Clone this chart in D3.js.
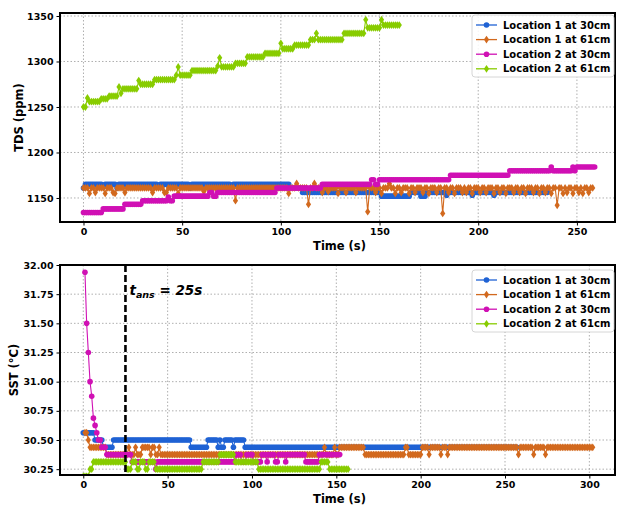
<!DOCTYPE html>
<html>
<head>
<meta charset="utf-8">
<script src="https://d3js.org/d3.v7.min.js"></script>
<style>
  body { margin: 0; background: #fff; }
  svg { font-family: "DejaVu Sans", sans-serif; font-weight: bold; }
</style>
</head>
<body>
<script>
// ---- data: run-length [value, samples] at 1 s per sample ----
const seriesNames = ["Location 1 at 30cm", "Location 1 at 61cm", "Location 2 at 30cm", "Location 2 at 61cm"];
const seriesColors = ["#1f62d4", "#d2691e", "#d010b4", "#88cc00"];
const seriesMarkers = ["circle", "diamond", "circle", "diamond"];

// TDS (ppm)
const tdsStart = [0, 0, 0, 0];
const tdsL1_30 = [[1161,1],[1165,9],[1162,1],[1165,6],[1161,1],[1165,20],[1162,1],[1165,15],[1161,1],[1165,20],[1162,1],[1165,29],
  [1161,6],[1156,40],[1152,15],[1156,5],[1152,3],[1156,10],[1153,1],[1156,12],[1153,1],[1156,10],[1153,1],[1156,27]];
const tdsL1_61 = [[1161,3],[1155,1],[1161,2],[1156,1],[1161,4],[1155,1],[1161,3],[1156,1],[1155,1],[1161,4],[1156,1],[1161,13],
  [1156,1],[1161,5],[1156,2],[1161,5],[1155,1],[1161,12],[1157,1],[1161,15],[1147,1],[1161,26],[1155,1],[1161,3],[1166,1],
  [1161,5],[1143,1],[1161,2],[1166,1],
  [1161,3],[1156,1],[1161,2],[1157,1],[1161,4],[1155,1],[1161,3],[1156,1],[1161,4],[1156,1],[1161,3],[1161,2],[1135,1],[1161,3],
  [1156,1],[1161,2],[1155,1],[1161,3],[1166,1],[1161,2],[1155,1],[1161,2],[1156,1],[1161,3],[1155,1],[1161,2],[1156,1],[1161,3],
  [1156,1],[1161,2],[1155,1],[1161,3],[1156,1],[1161,2],[1133,1],
  [1161,2],[1156,1],[1161,2],[1155,1],[1161,3],[1156,1],[1161,1],[1156,1],[1161,2],[1155,1],[1161,3],[1156,1],[1161,2],[1156,1],
  [1161,3],[1155,1],[1161,2],[1156,1],[1161,2],[1155,1],[1161,3],[1156,1],[1161,2],[1156,1],[1161,2],[1155,1],[1161,3],[1156,1],
  [1161,2],[1155,1],[1161,2],[1156,1],[1161,2],[1155,1],[1161,2],[1142,1],
  [1161,2],[1155,1],[1161,1],[1156,1],[1161,2],[1155,1],[1161,2],[1156,1],[1161,1],[1155,1],[1161,2],[1156,1],[1161,2]];
const tdsL2_30 = [[1134,10],[1138,11],[1143,9],[1147,13],[1151,1],[1147,2],[1152,18],[1156,2],[1152,2],[1156,30],[1161,23],
  [1165,25],[1170,2],[1165,2],[1170,36],[1175,30],[1180,21],[1184,1],[1180,10],[1184,1],[1180,1],[1184,10]];
const tdsL2_61 = [[1250,2],[1260,1],[1256,6],[1259,4],[1262,5],[1272,1],[1265,1],[1270,8],[1279,1],[1275,7],[1280,11],[1285,1],
  [1294,1],[1285,6],[1290,13],[1295,1],[1304,1],[1294,7],[1298,6],[1305,9],[1309,8],[1320,1],[1314,6],[1318,8],[1324,3],
  [1331,1],[1324,13],[1331,11],[1346,1],[1337,7],[1346,1],[1340,9]];

// SST (degC)
const sstStart = [0, 1, 1, 0];
const sstL1_30 = [[30.5625,7],[30.5,5],[30.4375,6],[30.5,46],[30.4375,10],[30.5,6],[30.4375,1],[30.5,1],[30.4375,2],[30.5,5],
  [30.4375,1],[30.5,6],[30.4375,162]];
const sstL1_61 = [[30.5625,2],[30.5,1],[30.4375,10],[30.375,13],[30.4375,1],[30.375,3],[30.4375,1],[30.375,3],[30.4375,5],
  [30.375,1],[30.4375,2],[30.375,2],[30.4375,1],[30.375,97],[30.4375,1],[30.375,5],[30.4375,1],[30.375,2],[30.4375,15],
  [30.375,24],[30.4375,2],[30.375,8],[30.4375,4],[30.375,1],[30.4375,6],[30.375,1],[30.4375,3],[30.375,1],[30.4375,41],
  [30.375,1],[30.4375,8],[30.375,1],[30.4375,6],[30.375,1],[30.4375,28]];
const sstL2_30 = [[31.9375,1],[31.5,1],[31.25,1],[31.0,1],[30.875,1],[30.6875,1],[30.625,1],[30.5625,1],[30.5,2],[30.4375,3],
  [30.375,15],[30.3125,3],[30.3125,11],[30.25,1],[30.3125,26],[30.3125,12],[30.3125,9],[30.375,3],[30.3125,3],[30.375,4],
  [30.3125,5],[30.375,3],[30.3125,1],[30.375,4],[30.3125,2],[30.375,4],[30.3125,1],[30.375,11],[30.3125,8],[30.375,13]];
const sstL2_61 = [[30.1875,4],[30.25,2],[30.3125,20],[30.25,3],[30.3125,3],[30.25,2],[30.3125,3],[30.25,2],[30.3125,4],
  [30.25,28],[30.3125,10],[30.375,9],[30.3125,14],[30.25,37],[30.3125,5],[30.25,12]];

const tdsTicksY = [1150, 1200, 1250, 1300, 1350];
const tdsTicksX = [0, 50, 100, 150, 200, 250];
const sstTicksY = [30.25, 30.5, 30.75, 31.0, 31.25, 31.5, 31.75, 32.0];
const sstTicksX = [0, 50, 100, 150, 200, 250, 300];
const tAns = 25;

// decode runs into points
function expand(start, runs) {
  const pts = [];
  let t = start;
  runs.forEach(([v, n]) => { for (let i = 0; i < n; i++) pts.push({ t: t++, v: v }); });
  return pts;
}

const width = 617, height = 506;
const svg = d3.select("body").append("svg").attr("width", width).attr("height", height);

const diamond = "M0,-3.9L2.6,0L0,3.9L-2.6,0Z";

function drawMarker(g, type, color) {
  if (type === "circle") g.append("circle").attr("r", 2.8).attr("fill", color);
  else g.append("path").attr("d", diamond).attr("fill", color);
}

function panel(opts) {
  const { left, right, top, bottom, xDomain, yDomain, xTicks, yTicks, yFmt, yLabel, labelGap, data, starts, legendTop, id } = opts;
  const x = d3.scaleLinear().domain(xDomain).range([left, right]);
  const y = d3.scaleLinear().domain(yDomain).range([bottom, top]);
  const g = svg.append("g");

  g.append("clipPath").attr("id", id).append("rect")
    .attr("x", left).attr("y", top).attr("width", right - left).attr("height", bottom - top);

  // grid
  g.append("g").selectAll("line").data(xTicks).join("line")
    .attr("x1", d => x(d)).attr("x2", d => x(d)).attr("y1", top).attr("y2", bottom)
    .attr("stroke", "#9a9a9a").attr("stroke-width", 0.8).attr("stroke-dasharray", "1.5,2");
  g.append("g").selectAll("line").data(yTicks).join("line")
    .attr("x1", left).attr("x2", right).attr("y1", d => y(d)).attr("y2", d => y(d))
    .attr("stroke", "#9a9a9a").attr("stroke-width", 0.8).attr("stroke-dasharray", "1.5,2");

  // series
  const plot = g.append("g").attr("clip-path", `url(#${id})`);
  data.forEach((runs, i) => {
    const pts = expand(starts[i], runs);
    const color = seriesColors[i];
    plot.append("path").datum(pts)
      .attr("fill", "none").attr("stroke", color).attr("stroke-width", 1.1)
      .attr("d", d3.line().x(d => x(d.t)).y(d => y(d.v)));
    const m = plot.append("g").selectAll("g").data(pts).join("g")
      .attr("transform", d => `translate(${x(d.t)},${y(d.v)})`);
    m.each(function() { drawMarker(d3.select(this), seriesMarkers[i], color); });
  });

  if (opts.vline) {
    g.append("line").attr("x1", x(tAns)).attr("x2", x(tAns)).attr("y1", top).attr("y2", bottom)
      .attr("stroke", "#000").attr("stroke-width", 2.6).attr("stroke-dasharray", "7,3");
    const t = g.append("text").attr("x", x(tAns) + 4).attr("y", top + 30)
      .attr("font-size", 13.5).attr("font-style", "italic");
    t.append("tspan").text("t");
    t.append("tspan").attr("font-size", 9.5).attr("dy", 3).text("ans");
    t.append("tspan").attr("dy", -3).text(" = 25s");
  }

  // axes
  const xa = g.append("g").attr("transform", `translate(0,${bottom})`)
    .call(d3.axisBottom(x).tickValues(xTicks).tickSize(3.5).tickPadding(3));
  const ya = g.append("g").attr("transform", `translate(${left},0)`)
    .call(d3.axisLeft(y).tickValues(yTicks).tickSize(3.5).tickPadding(3).tickFormat(yFmt));
  [xa, ya].forEach(a => {
    a.select(".domain").remove();
    a.selectAll("text").attr("font-size", 9.5).attr("font-family", "DejaVu Sans").attr("font-weight", "bold").attr("fill", "#000");
    a.selectAll("line").attr("stroke", "#000");
  });

  g.append("rect").attr("x", left).attr("y", top).attr("width", right - left).attr("height", bottom - top)
    .attr("fill", "none").attr("stroke", "#000").attr("stroke-width", 2);

  g.append("text").attr("x", (left + right) / 2 + 2).attr("y", bottom + 28)
    .attr("text-anchor", "middle").attr("font-size", 11.5).text("Time (s)");
  g.append("text").attr("transform", `translate(${left - labelGap},${(top + bottom) / 2}) rotate(-90)`)
    .attr("text-anchor", "middle").attr("font-size", 11.5).text(yLabel);

  // legend
  const lx = 472, lw = 142, lh = 62;
  const lg = g.append("g").attr("transform", `translate(${lx},${legendTop})`);
  lg.append("rect").attr("width", lw).attr("height", lh).attr("rx", 3)
    .attr("fill", "#fff").attr("fill-opacity", 0.85).attr("stroke", "#cccccc").attr("stroke-width", 0.8);
  seriesNames.forEach((name, i) => {
    const row = lg.append("g").attr("transform", `translate(0,${10 + i * 14.6})`);
    row.append("line").attr("x1", 4).attr("x2", 25).attr("stroke", seriesColors[i]).attr("stroke-width", 1.3);
    const mk = row.append("g").attr("transform", "translate(14.5,0)");
    drawMarker(mk, seriesMarkers[i], seriesColors[i]);
    row.append("text").attr("x", 31).attr("y", 3.6).attr("font-size", 10).text(name);
  });
}

panel({
  id: "clipTop", left: 60, right: 615, top: 13, bottom: 222,
  xDomain: [-11.9, 269.3], yDomain: [1123.6, 1353.3],
  xTicks: tdsTicksX, yTicks: tdsTicksY, yFmt: d3.format("d"), yLabel: "TDS (ppm)", labelGap: 37,
  data: [tdsL1_30, tdsL1_61, tdsL2_30, tdsL2_61], starts: tdsStart, legendTop: 15
});

panel({
  id: "clipBot", left: 60, right: 615, top: 265, bottom: 475,
  xDomain: [-13.8, 315.2], yDomain: [30.2, 32.0],
  xTicks: sstTicksX, yTicks: sstTicksY, yFmt: d3.format(".2f"), yLabel: "SST (°C)", labelGap: 42,
  data: [sstL1_30, sstL1_61, sstL2_30, sstL2_61], starts: sstStart, legendTop: 270, vline: true
});
</script>
</body>
</html>
